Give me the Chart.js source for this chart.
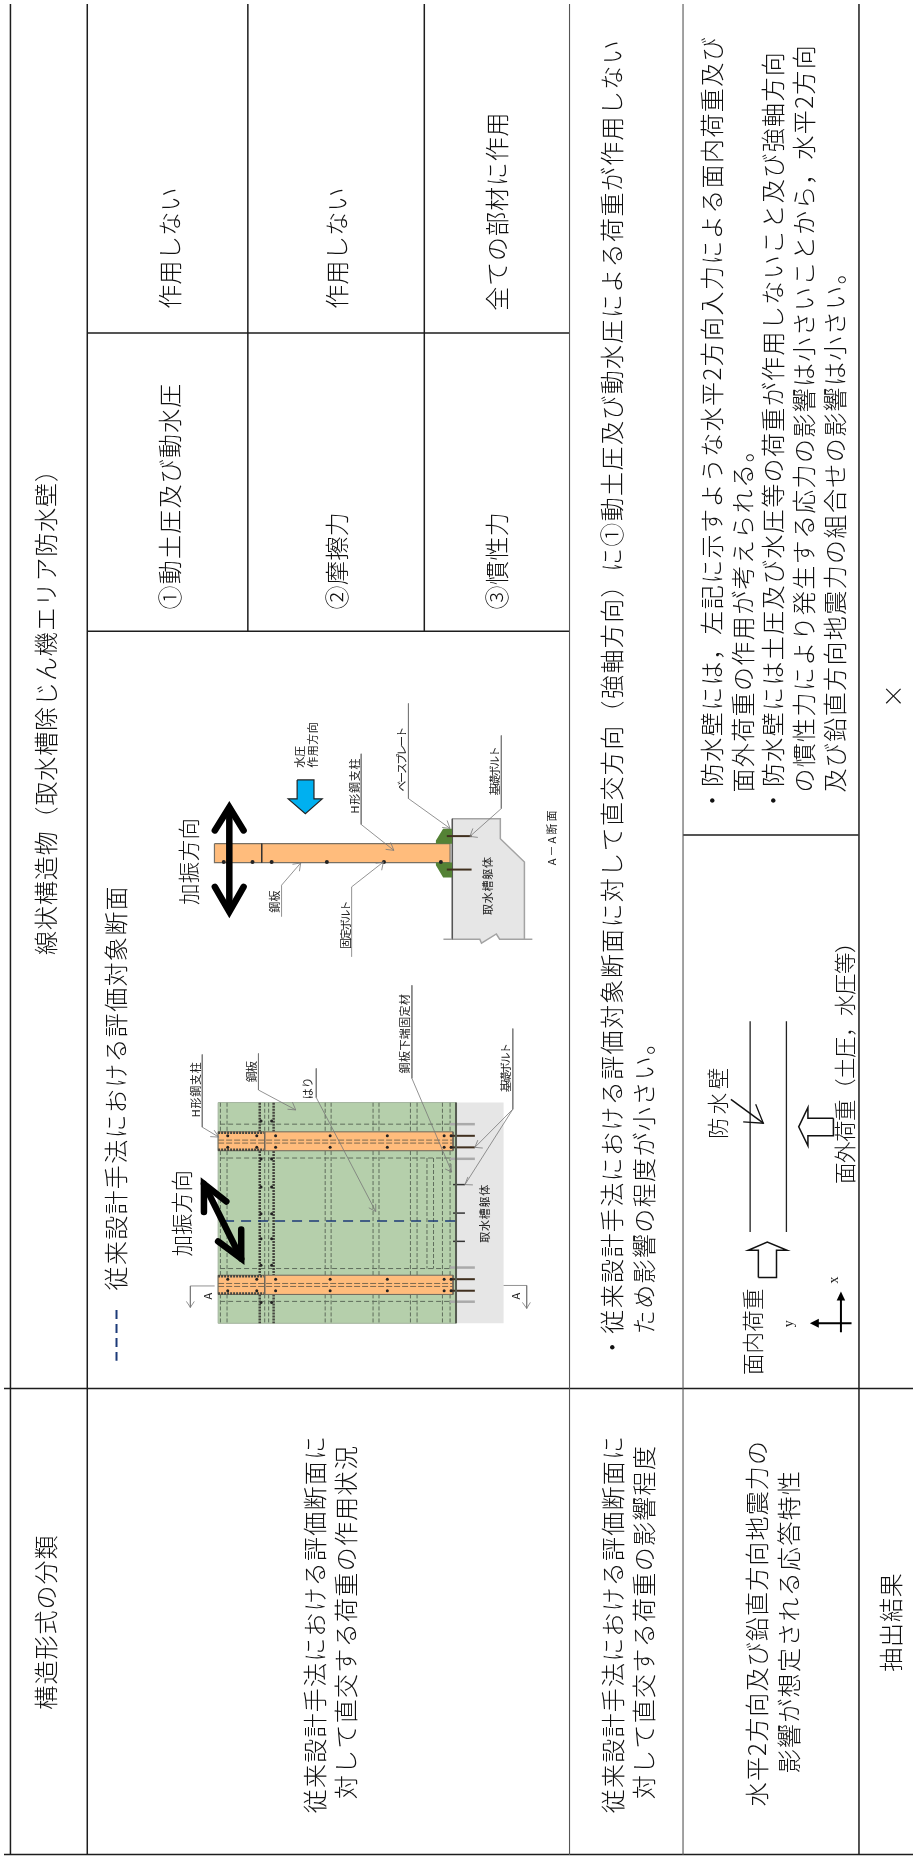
<!DOCTYPE html>
<html lang="ja">
<head>
<meta charset="utf-8">
<title>構造形式の分類</title>
<style>
  html, body { margin: 0; padding: 0; background: #fff; }
  canvas { display: block; }
</style>
<script src="https://cdn.jsdelivr.net/npm/chart.js@4/dist/chart.umd.min.js"></script>
</head>
<body>
<canvas id="sheet" width="917" height="1861"></canvas>
<script>
// Table text, read bottom-to-top on the page
const bodyTexts = [
  "線状構造物（取水槽除じん機エリア防水壁）", "構造形式の分類",
  "従来設計手法における評価対象断面",
  "作用しない", "作用しない", "全ての部材に作用",
  "①動土圧及び動水圧", "②摩擦力", "③慣性力",
  "従来設計手法における評価断面に", "対して直交する荷重の作用状況",
  "・従来設計手法における評価対象断面に対して直交方向（強軸方向）に①動土圧及び動水圧による荷重が作用しない",
  "ため影響の程度が小さい。",
  "従来設計手法における評価断面に", "対して直交する荷重の影響程度",
  "・防水壁には，左記に示すような水平2方向入力による面内荷重及び",
  "面外荷重の作用が考えられる。",
  "・防水壁には土圧及び水圧等の荷重が作用しないこと及び強軸方向",
  "の慣性力により発生する応力の影響は小さいことから，水平2方向",
  "及び鉛直方向地震力の組合せの影響は小さい。",
  "水平2方向及び鉛直方向地震力の", "影響が想定される応答特性",
  "抽出結果", "×",
];
const bodyTextX = [42.7, 42.7, 112.5, 167, 336, 497, 167, 336, 497, 314, 345, 613, 646, 614, 646, 714, 745, 776, 806.7, 838, 760, 792, 895, 897];
const bodyTextBottom = [955, 1713, 1292, 306, 306, 308, 608, 608, 608, 1817, 1803, 1361, 1336, 1817, 1803, 812, 792, 812, 792, 792, 1810, 1777, 1675, 707];
const bodyTextTop = [455, 1537, 885, 184, 184, 108, 380, 510, 510, 1437, 1447, 35, 1030, 1437, 1447, 32, 435, 47, 40, 256, 1442, 1472, 1575, 683];

// Larger captions inside the two diagrams and the load sketch
const captionTexts = ["加振方向", "加振方向", "防水壁", "面外荷重（土圧，水圧等）", "面内荷重"];
const captionX = [186, 179, 720, 848, 755];
const captionBottom = [905, 1258, 1140, 1185, 1377];
const captionTop = [817, 1171, 1065, 932, 1290];

// Small gothic labels on the diagrams
const labelTexts = [
  "水圧", "作用方向", "H形鋼支柱", "ベースプレート", "基礎ボルト", "取水槽躯体", "A－A断面", "鋼板", "固定ボルト",
  "鋼板下端固定材", "基礎ボルト", "はり", "鋼板", "H形鋼支柱", "取水槽躯体", "A", "A",
];
const labelX = [298, 311.5, 354, 401.5, 495, 487.7, 553, 273, 345, 404.8, 506.7, 306.7, 250, 194, 485, 206, 516.7];
const labelBottom = [767, 767, 813, 791, 795, 915, 865, 912.7, 949, 1074, 1093, 1100, 1083, 1118, 1244, 1301, 1301];
const labelTop = [745, 721, 757, 728, 747, 856, 808, 890, 902, 994, 1045, 1078, 1062, 1062, 1185, 1290, 1290];

const axisLetters = ["y", "x"];
const axisLetterX = [792, 838];
const axisLetterBottom = [1329, 1285];
const axisLetterTop = [1317, 1275];

// Table rules
const heavyRules = [
  [[6.5, 0], [6.5, 1859]], [[84, 0], [84, 1859]], [[246, 0], [246, 630]], [[424, 0], [424, 630]],
  [[862.5, 0], [862.5, 1859]], [[0, 1390.5], [917, 1390.5]], [[0, 1858.5], [917, 1858.5]],
  [[84, 330.5], [570, 330.5]], [[84, 630], [570, 630]], [[685, 834.5], [862, 834.5]],
];
const lightRules = [[[570.5, 0], [570.5, 1859]], [[685, 0], [685, 1859]]];

// Front elevation (left diagram)
const panelTop = [1103.5, 1152, 1296];
const panelBottom = [1132.5, 1276.5, 1325];
const stiffenerX = [218.3, 225, 324, 330, 372.3, 378.3, 410, 416.7, 442.3, 450];
const middleStiffenerX = [426.7, 433.3];
const panelDashY = [1125, 1159, 1270, 1303];
const columnTop = [1132.7, 1276.7];
const columnBottom = [1151.7, 1296];
const columnDashY = [1141, 1144, 1285, 1288];
const beamEdgeX = [258, 272];
const beamInnerX = [263, 267];
const plateBoltX = [225.7, 255, 274, 329, 386.7, 444, 451];
const plateBoltY = [1136.7, 1148.3, 1280.7, 1292.3];
const beamBoltX = [259.3, 270];
const beamBoltY = [1121.7, 1160, 1188, 1215, 1240, 1266.7, 1304];
const rodY = [1136.7, 1148.3, 1280.7, 1292.3];
const paleRodY = [1125, 1159.8, 1269, 1303.3];
const shortRodY = [1185.7, 1214.3, 1242.7];

// Section A-A (right diagram)
const concreteOutline = [[452.3, 818.3], [500.7, 818.3], [500.7, 838.3], [525, 861.7], [525, 939.3], [500, 939.3], [496.7, 934], [481.7, 943.3], [480, 939.3], [452.3, 939.3]];
const concreteBase = [[443.3, 939.3], [452.3, 939.3]];
const concreteBaseRight = [[525, 939.3], [533, 939.3]];
const wallOutline = [[212.3, 843.3], [450, 843.3], [450, 862.3], [212.3, 862.3], [212.3, 843.3]];
const wallJoint = [[260, 843.3], [260, 862.3]];
const baseUpper = [[452, 828.3], [443, 828.3], [435.7, 840], [435.7, 843.3], [452, 843.3]];
const baseLower = [[452, 877.3], [443, 877.3], [435.7, 865], [435.7, 862.3], [452, 862.3]];
const sectionBoltX = [221.7, 250.7, 270, 325.7, 383.3, 440.7];
const sectionRodY = [835.7, 869.3];
const waterArrow = [[295.7, 779.3], [312.7, 779.3], [312.7, 798.3], [321, 798.3], [304, 813.3], [286.7, 798.3], [295.7, 798.3], [295.7, 779.3]];

// Thick shaking-direction arrows
const shakeArrows = [
  [[[227.3, 808], [227.3, 910]], [[212.7, 830], [227.3, 806.7], [241.7, 830]], [[212.7, 886.7], [227.3, 911.7], [241.7, 886.7]]],
  [[[201.7, 1185], [239.3, 1260]], [[201.7, 1213.3], [201.7, 1185], [224.3, 1202.7]], [[239.3, 1230.7], [239.3, 1260], [216, 1242.7]]],
];

// Thin leader lines
const leaders = [
  [[360.3, 753], [360.3, 824], [393.3, 850]], [[408, 702.5], [408, 798], [450, 828]], [[501.7, 734.6], [501.7, 808], [470, 836]],
  [[280, 916.7], [280, 885], [299.3, 862.7]], [[350.7, 957], [350.7, 886.7], [382.7, 861.7]],
  [[411.5, 985.5], [411.5, 1079], [451.7, 1173]], [[513.3, 1029], [513.3, 1110], [475, 1148.3]], [[513.3, 1110], [465, 1185.7]],
  [[315, 1069], [315, 1098.3], [375, 1212.7]], [[256.7, 1054], [256.7, 1090.7], [294.3, 1110.7]], [[200, 1055], [200, 1128], [216.7, 1138]],
  [[212.5, 1287.5], [188, 1287.5], [188, 1309]], [[504, 1287], [527.3, 1287], [527.3, 1310]],
];
const leaderHeads = [
  [[385, 849], [393.3, 850], [390, 842]], [[442, 827], [450, 828], [447, 820]], [[478, 837], [470, 836], [473, 828]],
  [[291, 864], [299.3, 862.7], [298, 871]], [[375, 863], [382.7, 861.7], [381, 870]],
  [[445, 1170], [451.7, 1173], [451, 1165]], [[483, 1149], [475, 1148.3], [478, 1141]], [[473, 1186], [465, 1185.7], [468, 1178]],
  [[368, 1209], [375, 1212.7], [375, 1205]], [[286, 1110], [294.3, 1110.7], [291, 1103]], [[208, 1137.5], [216.7, 1138], [212, 1131]],
  [[184, 1303], [188, 1309], [192, 1303]], [[523, 1304], [527.3, 1310], [531, 1304]],
];

// Load sketch
const wallLines = [[[752.7, 1021.7], [752.7, 1233.3]], [[789.3, 1021.7], [789.3, 1233.3]]];
const wallPointer = [[733.3, 1100], [766, 1124]];
const wallPointerHead = [[758.3, 1105], [766, 1124], [745.7, 1122.7]];
const outOfPlaneArrow = [[836.7, 1119], [811, 1119], [811, 1108.3], [801.7, 1127.7], [811, 1146.7], [811, 1136.7], [836.7, 1136.7], [836.7, 1119]];
const inPlaneArrow = [[761, 1279], [761, 1251.7], [750.7, 1251.7], [770, 1243.3], [790, 1251.7], [779.3, 1251.7], [779.3, 1279], [761, 1279]];
const axisX = [[844.3, 1334], [844.3, 1300]];
const axisXHead = [[840, 1302], [844.3, 1293], [848.6, 1302], [840, 1302]];
const axisY = [[855, 1325], [820, 1325]];
const axisYHead = [[822, 1320.5], [813, 1325], [822, 1329.5], [822, 1320.5]];

// Legend and cut line
const cutLine = [[222, 1222.3], [456, 1222.3]];
const legendDash = [[113.5, 1311.7], [113.5, 1362.7]];

const toPoints = (pairs) => pairs.map(([x, y]) => ({ x, y }));

// One line or outline dataset
function path(pairs, color, width = 1, extra = {}) {
  return {
    data: toPoints(pairs),
    showLine: true,
    borderColor: color,
    borderWidth: width,
    pointRadius: 0,
    ...extra,
  };
}

// Filled closed shape
function shape(pairs, fillColor, lineColor = "transparent", width = 1) {
  return path(pairs, lineColor, width, { fill: "shape", backgroundColor: fillColor });
}

// Bolts as plain scatter points
function dots(xs, ys, color, radius) {
  const points = [];
  ys.forEach((y) => xs.forEach((x) => points.push({ x, y })));
  return { data: points, showLine: false, pointRadius: radius, pointBackgroundColor: color, pointBorderWidth: 0 };
}

function buildDatasets() {
  const sets = [];
  const DASH = "#5f6d5c";
  const DARK = "#45463f";

  // Front elevation
  sets.push(shape([[216, 1103.3], [456, 1103.3], [456, 1325], [216, 1325], [216, 1103.3]], "#b5cfab", "#a4b49f"));
  sets.push(shape([[456, 1103.3], [504, 1103.3], [504, 1325], [456, 1325], [456, 1103.3]], "#e6e6e6"));
  panelTop.forEach((top, i) => {
    stiffenerX.forEach((x) => sets.push(path([[x, top], [x, panelBottom[i]]], DASH, 1, { borderDash: [4, 2] })));
    beamEdgeX.forEach((x) => sets.push(path([[x, top], [x, panelBottom[i]]], DARK, 2.5, { borderDash: [2, 1] })));
    beamInnerX.forEach((x) => sets.push(path([[x, top], [x, panelBottom[i]]], DASH, 1, { borderDash: [4, 2] })));
  });
  middleStiffenerX.forEach((x) => sets.push(path([[x, 1159], [x, 1270]], DASH, 1, { borderDash: [4, 2] })));
  panelDashY.forEach((y) => sets.push(path([[218, y], [450, y]], DASH, 1, { borderDash: [5, 3] })));
  columnTop.forEach((top, i) => {
    const bottom = columnBottom[i];
    sets.push(shape([[216, top], [453, top], [453, bottom], [216, bottom], [216, top]], "#ffbc7c", "#6d675c"));
    sets.push(path([[216, top + 1], [262, top + 1]], DARK, 2.5, { borderDash: [2, 1] }));
    sets.push(path([[216, bottom - 1], [262, bottom - 1]], DARK, 2.5, { borderDash: [2, 1] }));
    sets.push(path([[263, top], [263, bottom]], "#6d675c", 1));
  });
  columnDashY.forEach((y) => sets.push(path([[216, y], [453, y]], "#7d6a50", 1, { borderDash: [6, 2] })));
  rodY.forEach((y) => sets.push(path([[450, y], [475, y]], "#40301f", 2)));
  paleRodY.forEach((y) => sets.push(path([[450, y], [475, y]], "#aaaaaa", 2.5)));
  shortRodY.forEach((y) => sets.push(path([[453, y], [465, y]], "#333333", 1.5)));
  sets.push(path([[456, 1103.3], [456, 1325]], "#555a50", 2));
  sets.push(dots(plateBoltX, plateBoltY, "#222222", 1.5));
  sets.push(dots(beamBoltX, beamBoltY, "#222222", 1.5));
  sets.push(path(cutLine, "#1c3a78", 1.5, { borderDash: [10, 7] }));
  sets.push(path(legendDash, "#1c3a78", 2, { borderDash: [9, 5] }));

  // Section A-A
  sets.push(shape([...concreteOutline, concreteOutline[0]], "#e6e6e6", "#a3a3a3", 1.5));
  sets.push(path([[452.3, 818.3], [452.3, 939.3]], "#555555", 1));
  sets.push(path(concreteBase, "#a3a3a3", 1.5));
  sets.push(path(concreteBaseRight, "#a3a3a3", 1.5));
  sets.push(shape(wallOutline, "#ffbc7c", "#777064", 1.2));
  sets.push(path(wallJoint, "#333333", 1));
  sets.push(shape([...baseUpper, baseUpper[0]], "#548235"));
  sets.push(shape([...baseLower, baseLower[0]], "#548235"));
  sectionRodY.forEach((y) => sets.push(path([[446.7, y], [471.7, y]], "#40301f", 2)));
  sets.push(dots(sectionBoltX, [861.7], "#222222", 2));
  sets.push(shape(waterArrow, "#00b0f0", "#222222", 1.2));

  // Shaking arrows
  shakeArrows.forEach((arrow) => {
    arrow.forEach((part) => sets.push(path(part, "#000000", 6.5, { borderCapStyle: "round", borderJoinStyle: "miter" })));
  });

  leaders.forEach((line) => sets.push(path(line, "#777777", 0.8)));
  leaderHeads.forEach((line) => sets.push(path(line, "#777777", 0.8)));

  // Load sketch
  wallLines.forEach((line) => sets.push(path(line, "#222222", 1.3)));
  sets.push(path(wallPointer, "#111111", 1.5));
  sets.push(path(wallPointerHead, "#111111", 1.3));
  sets.push(shape(outOfPlaneArrow, "#ffffff", "#111111", 1.5));
  sets.push(shape(inPlaneArrow, "#ffffff", "#111111", 1.5));
  sets.push(path(axisX, "#000000", 2));
  sets.push(shape(axisXHead, "#000000"));
  sets.push(path(axisY, "#000000", 2));
  sets.push(shape(axisYHead, "#000000"));

  // Table rules go on top
  heavyRules.forEach((rule) => sets.push(path(rule, "#1d1d1d", 1.5)));
  lightRules.forEach((rule) => sets.push(path(rule, "#555555", 1.1)));

  // Chart.js paints the first dataset last, so flip to keep this painter's order
  return sets.reverse();
}

// Rotated text, stretched to span bottom..top like the justified original
function drawRun(chart, text, x, bottom, top, font, color) {
  const { ctx, scales } = chart;
  const px = scales.x.getPixelForValue(x);
  const startY = scales.y.getPixelForValue(bottom);
  const endY = scales.y.getPixelForValue(top);
  ctx.save();
  ctx.font = font;
  ctx.fillStyle = color;
  ctx.textAlign = "left";
  ctx.textBaseline = "middle";
  const natural = ctx.measureText(text).width;
  ctx.letterSpacing = ((startY - endY - natural) / [...text].length).toFixed(2) + "px";
  ctx.translate(px, startY);
  ctx.rotate(-Math.PI / 2);
  ctx.fillText(text, 0, 0);
  ctx.restore();
}

const rotatedText = {
  id: "rotatedText",
  afterDatasetsDraw(chart) {
    const CJK = '"Noto Sans CJK JP"';
    bodyTexts.forEach((t, i) => drawRun(chart, t, bodyTextX[i], bodyTextBottom[i], bodyTextTop[i], `300 24px ${CJK}`, "#111111"));
    captionTexts.forEach((t, i) => drawRun(chart, t, captionX[i], captionBottom[i], captionTop[i], `300 21.5px ${CJK}`, "#111111"));
    labelTexts.forEach((t, i) => drawRun(chart, t, labelX[i], labelBottom[i], labelTop[i], `400 11px ${CJK}`, "#222222"));
    axisLetters.forEach((t, i) => drawRun(chart, t, axisLetterX[i], axisLetterBottom[i], axisLetterTop[i], '14px "Liberation Serif"', "#222222"));
  },
};

new Chart(document.getElementById("sheet"), {
  type: "scatter",
  data: { datasets: buildDatasets() },
  plugins: [rotatedText],
  options: {
    responsive: false,
    animation: false,
    layout: { padding: 0 },
    plugins: { legend: { display: false }, tooltip: { enabled: false } },
    scales: {
      x: { type: "linear", min: 0, max: 917, display: false },
      y: { type: "linear", min: 0, max: 1861, reverse: true, display: false },
    },
  },
});
</script>
</body>
</html>
